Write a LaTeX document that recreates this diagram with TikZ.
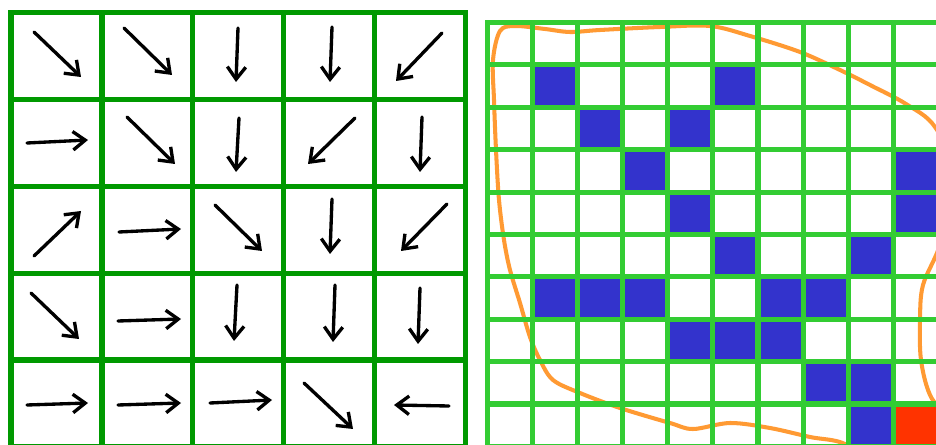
\documentclass[tikz,border=0pt]{standalone}
\usepackage{xcolor}
\definecolor{fielddk}{HTML}{009900}
\definecolor{pixlt}{HTML}{33CC33}
\definecolor{hitblue}{HTML}{3333CC}
\definecolor{goalred}{HTML}{FF3300}
\definecolor{blobor}{HTML}{FF9A33}
\usepackage{tikz}
\usetikzlibrary{arrows.meta}

\begin{document}
\begin{tikzpicture}[x=0.02cm,y=-0.02cm,
  vecarrow/.style={line width=1.9pt,line cap=round,-{Straight Barb[length=7pt,width=10.5pt]}},
  fieldline/.style={fielddk,line width=3pt,line cap=rect},
  pixline/.style={pixlt,line width=2.9pt,line cap=rect},
  blobline/.style={blobor,line width=2.3pt}]
\useasboundingbox (0,0) rectangle (936,445);
\clip (0,0) rectangle (936,445);
\fill[white] (0,0) rectangle (936,445);

% left: vector field
\begin{scope}[xshift=0.22cm,yshift=-0.25cm,x=1.818cm,y=-1.738cm]
\foreach \i in {0,...,5} {
  \draw[fieldline] (\i,0) -- (\i,5);
  \draw[fieldline] (0,\i) -- (5,\i);
}
\end{scope}
\draw[vecarrow] (34,32) -- (81,77);
\draw[vecarrow] (124,28) -- (172,75);
\draw[vecarrow] (238,28) -- (236,82);
\draw[vecarrow] (332,27) -- (330,82);
\draw[vecarrow] (442,33) -- (396,81);
\draw[vecarrow] (27,143) -- (88,140);
\draw[vecarrow] (127,117) -- (175,164);
\draw[vecarrow] (239,118) -- (236,172);
\draw[vecarrow] (355,118) -- (308,164);
\draw[vecarrow] (422,117) -- (420,172);
\draw[vecarrow] (34,256) -- (81,211);
\draw[vecarrow] (119,232) -- (181,229);
\draw[vecarrow] (215,205) -- (262,251);
\draw[vecarrow] (332,199) -- (330,254);
\draw[vecarrow] (447,204) -- (401,251);
\draw[vecarrow] (31,293) -- (79,339);
\draw[vecarrow] (118,321) -- (181,319);
\draw[vecarrow] (237,285) -- (234,341);
\draw[vecarrow] (335,285) -- (333,342);
\draw[vecarrow] (420,288) -- (418,344);
\draw[vecarrow] (27,405) -- (88,403);
\draw[vecarrow] (118,405) -- (181,403);
\draw[vecarrow] (210,403) -- (272,400);
\draw[vecarrow] (304,383) -- (353,429);
\draw[vecarrow] (449,406) -- (394,405);

% right: region outline and occupied cells
\draw[blobline] plot[smooth cycle,tension=0.55] coordinates {
  (493,60) (500,31) (515,26) (545,29) (570,32) (600,30) (660,27) (710,26)
  (750,36) (800,52) (840,70) (870,85) (906,104) (935,127) (958,180)
  (940,245) (923,285) (920,320) (921,360) (930,395) (950,425) (960,470)
  (880,470) (845,444) (810,437) (770,428) (730,423) (693,429) (670,423)
  (620,408) (580,393) (553,380) (540,360) (530,337) (520,303) (510,270)
  (504,240) (499,200) (496,150) (494,100)};
\begin{scope}[xshift=9.75cm,yshift=-0.45cm,x=0.902cm,y=-0.848cm]
\foreach \c/\r in {1/1,5/1,2/2,4/2,3/3,9/3,4/4,9/4,5/5,8/5,1/6,2/6,3/6,
    6/6,7/6,4/7,5/7,6/7,7/8,8/8,8/9}
  \fill[hitblue] (\c,\r) rectangle ++(1,1);
\fill[goalred] (9,9) rectangle ++(1,1);
\foreach \i in {0,...,10} {
  \draw[pixline] (\i,0) -- (\i,10);
  \draw[pixline] (0,\i) -- (10,\i);
}
\end{scope}
\end{tikzpicture}
\end{document}
